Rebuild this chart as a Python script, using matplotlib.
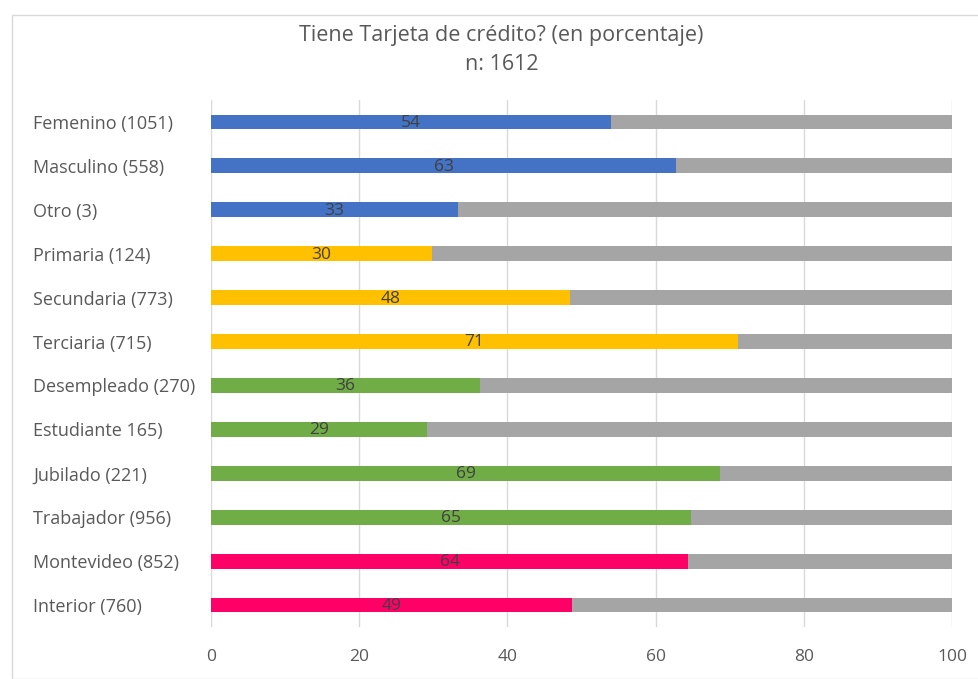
import matplotlib.pyplot as plt
from matplotlib.patches import Rectangle

# Data
categories = ["Femenino (1051)", "Masculino (558)", "Otro (3)", "Primaria (124)",
              "Secundaria (773)", "Terciaria (715)", "Desempleado (270)", "Estudiante 165)",
              "Jubilado (221)", "Trabajador (956)", "Montevideo (852)", "Interior (760)"]
si_values = [54.0, 62.8, 33.3, 29.8, 48.4, 71.1, 36.3, 29.1, 68.7, 64.8, 64.4, 48.7]
no_values = [100 - v for v in si_values]
group_colors = ["#4472C4"] * 3 + ["#FFC000"] * 3 + ["#70AD47"] * 4 + ["#FF0066"] * 2
x_ticks = [0, 20, 40, 60, 80, 100]

plt.rcParams['font.family'] = ['Open Sans', 'DejaVu Sans']

fig = plt.figure(figsize=(9.79, 6.79), dpi=100)
ax = fig.add_axes([0.2155, 0.0766, 0.7569, 0.7761])

# outer chart border
fig.patches.append(Rectangle((12 / 979, 0), 1 - 12 / 979, 1 - 15 / 679, transform=fig.transFigure,
                             fill=False, edgecolor="#D9D9D9", linewidth=1))

y = range(len(categories))
ax.barh(y, si_values, height=0.34, color=group_colors, zorder=3)
ax.barh(y, no_values, left=si_values, height=0.34, color="#A5A5A5", zorder=3)

for i, v in enumerate(si_values):
    ax.text(v / 2, i + 0.02, f"{v:.0f}", ha="center", va="center", fontsize=12.5,
            color="#404040", zorder=4)

ax.set_xlim(0, 100)
ax.set_ylim(len(categories) - 0.5, -0.5)
ax.set_xticks(x_ticks)
ax.set_yticks(list(y))
ax.set_yticklabels(categories, fontsize=13, color="#595959")
ax.tick_params(axis="x", labelsize=12.5, labelcolor="#595959", length=0, pad=16)
ax.tick_params(axis="y", length=0, pad=10)
for lbl in ax.get_yticklabels():
    lbl.set_horizontalalignment("left")
    lbl.set_x(-164 / 741)
ax.grid(axis="x", color="#D9D9D9", linewidth=1, zorder=0)
for s in ax.spines.values():
    s.set_visible(False)

fig.text(0.5 + 12 / 979, 1 - 35 / 679, "Tiene Tarjeta de crédito? (en porcentaje)", ha="center",
         va="center", fontsize=15.5, color="#595959")
fig.text(0.5 + 12 / 979, 1 - 65 / 679, "n: 1612", ha="center", va="center", fontsize=15.5, color="#595959")

fig.savefig("out.png", dpi=100)
